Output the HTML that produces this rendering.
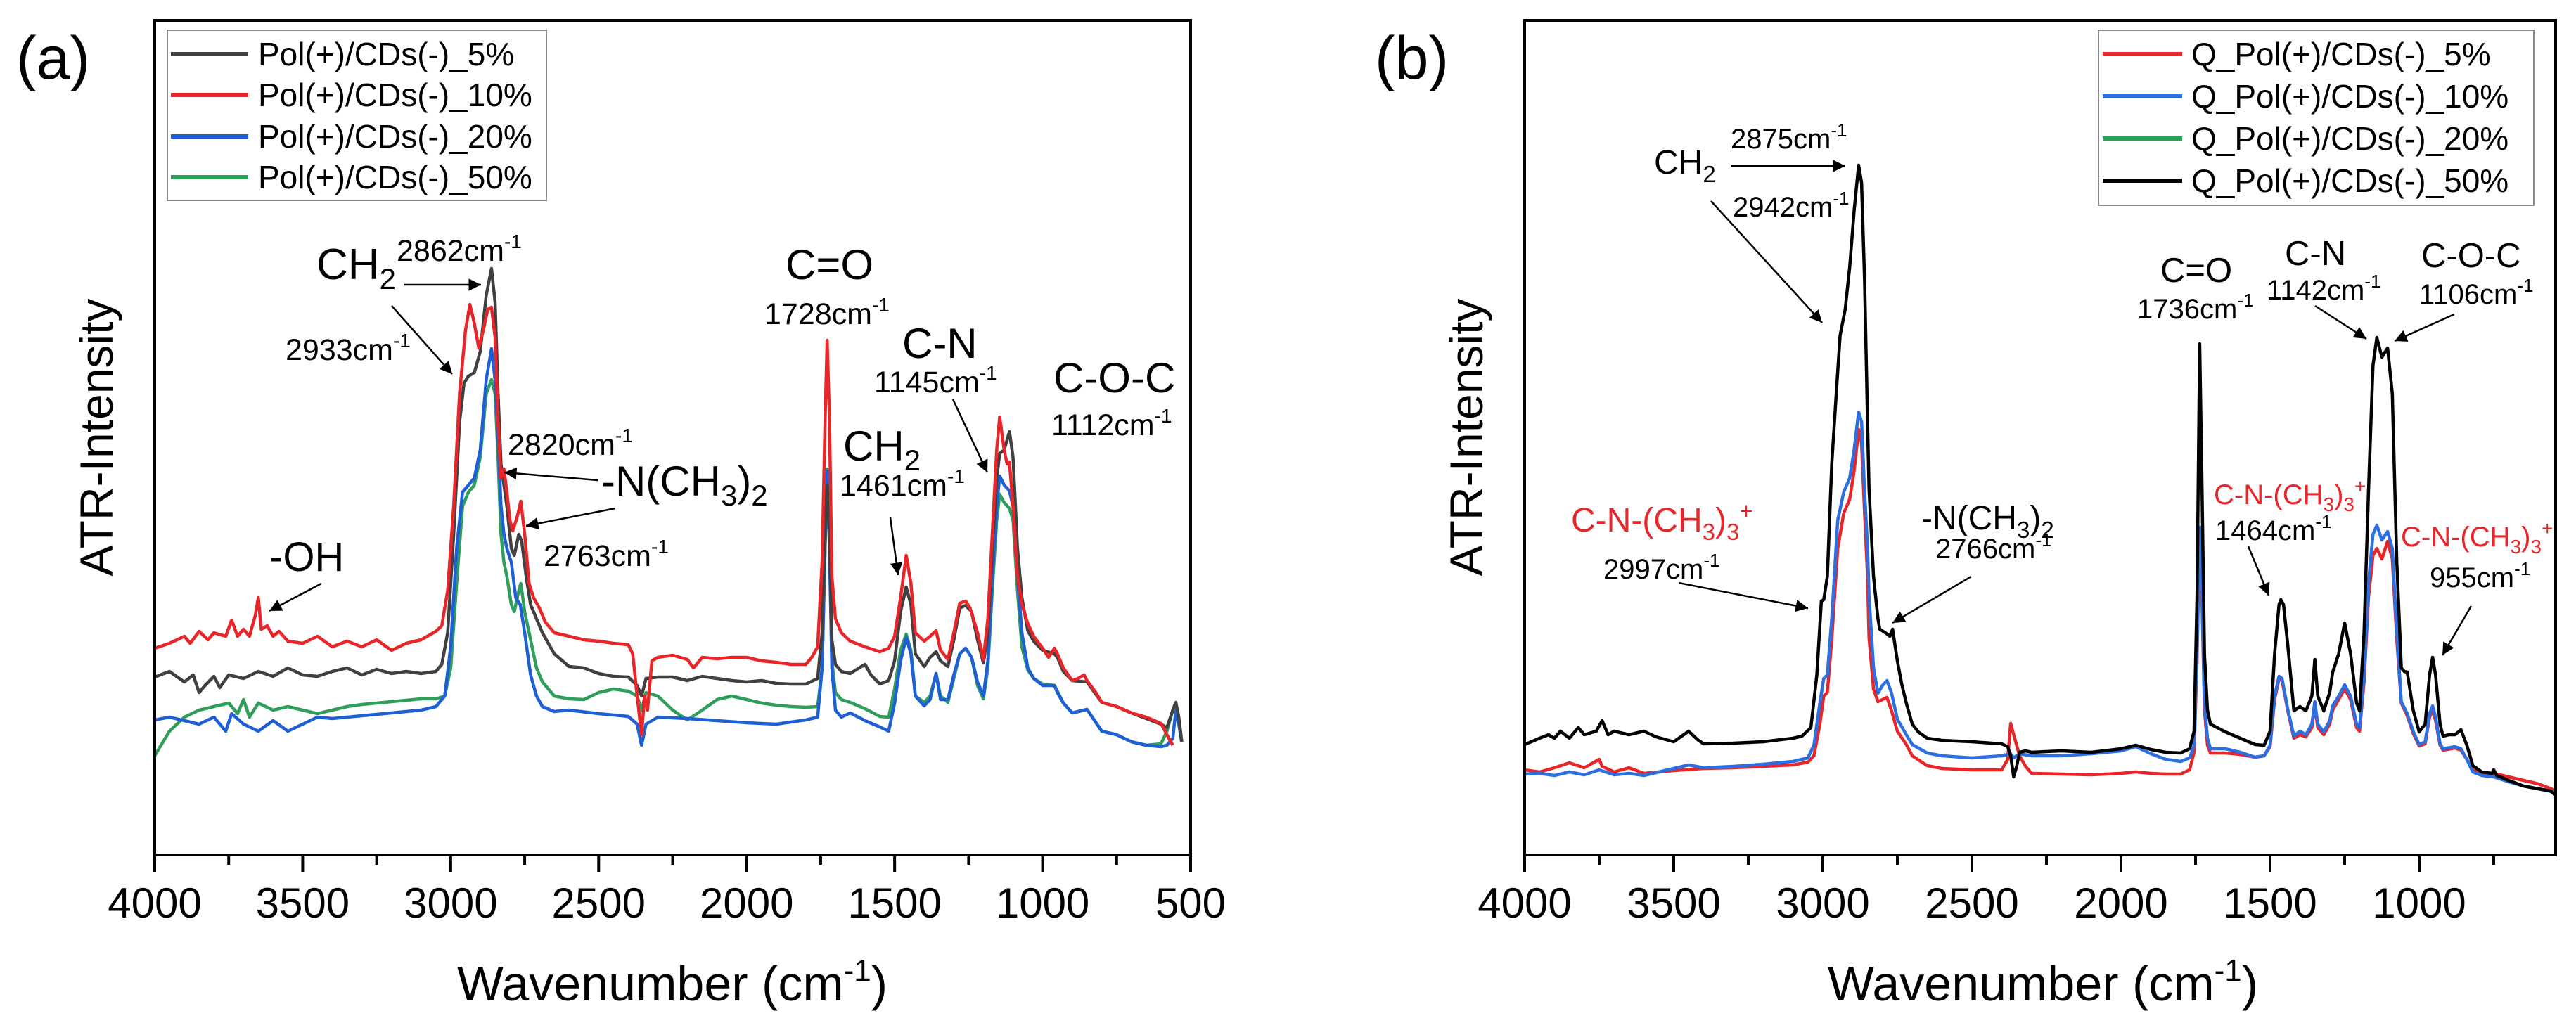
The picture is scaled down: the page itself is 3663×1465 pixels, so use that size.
<!DOCTYPE html>
<html><head><meta charset="utf-8"><style>
html,body{margin:0;padding:0;background:#fff}
svg{display:block;font-family:"Liberation Sans",Arial,sans-serif}
</style></head><body>
<svg id="fig" width="3663" height="1465" viewBox="0 0 3663 1465" xmlns="http://www.w3.org/2000/svg">
<defs>
<marker id="ah" viewBox="0 0 10 10" refX="10" refY="5" markerWidth="9" markerHeight="7" markerUnits="strokeWidth" orient="auto"><path d="M0,0 L10,5 L0,10 z" fill="#000"/></marker>
<clipPath id="clipL"><rect x="222" y="31" width="1469" height="1183"/></clipPath>
<clipPath id="clipR"><rect x="2170" y="31" width="1462" height="1183"/></clipPath>
</defs>
<text x="23" y="112" font-size="86">(a)</text>
<text x="1955" y="112" font-size="86">(b)</text>
<g id="seriesL" clip-path="url(#clipL)"></g>
<g id="seriesR" clip-path="url(#clipR)"></g>
<rect x="220" y="29" width="1473" height="1187" fill="none" stroke="#000" stroke-width="4"/>
<rect x="2168" y="29" width="1466" height="1187" fill="none" stroke="#000" stroke-width="4"/>
<g id="axesL"></g><g id="axesR"></g>
<text transform="translate(160,622) rotate(-90)" text-anchor="middle" font-size="66">ATR-Intensity</text>
<text transform="translate(2108,622) rotate(-90)" text-anchor="middle" font-size="66">ATR-Intensity</text>
<text x="956" y="1423" text-anchor="middle" font-size="70">Wavenumber (cm<tspan font-size="44" dy="-28">-1</tspan><tspan dy="28">)</tspan></text>
<text x="2905" y="1423" text-anchor="middle" font-size="70">Wavenumber (cm<tspan font-size="44" dy="-28">-1</tspan><tspan dy="28">)</tspan></text>

<g>
<rect x="238" y="43" width="539" height="242" fill="#fff" stroke="#888" stroke-width="2"/>
<g><line x1="243" x2="353" y1="77" y2="77" stroke="#404040" stroke-width="6"/><text x="367" y="93" font-size="46">Pol(+)/CDs(-)_5%</text></g>
<g><line x1="243" x2="353" y1="135" y2="135" stroke="#e8262a" stroke-width="6"/><text x="367" y="151" font-size="46">Pol(+)/CDs(-)_10%</text></g>
<g><line x1="243" x2="353" y1="194" y2="194" stroke="#1f5fd6" stroke-width="6"/><text x="367" y="210" font-size="46">Pol(+)/CDs(-)_20%</text></g>
<g><line x1="243" x2="353" y1="252" y2="252" stroke="#2e9e5a" stroke-width="6"/><text x="367" y="268" font-size="46">Pol(+)/CDs(-)_50%</text></g>
</g>
<g>
<rect x="2984" y="43" width="619" height="249" fill="#fff" stroke="#888" stroke-width="2"/>
<g><line x1="2990" x2="3103" y1="77" y2="77" stroke="#e8262a" stroke-width="6"/><text x="3116" y="93" font-size="46">Q_Pol(+)/CDs(-)_5%</text></g>
<g><line x1="2990" x2="3103" y1="137" y2="137" stroke="#2b6fe0" stroke-width="6"/><text x="3116" y="153" font-size="46">Q_Pol(+)/CDs(-)_10%</text></g>
<g><line x1="2990" x2="3103" y1="197" y2="197" stroke="#2e9e5a" stroke-width="6"/><text x="3116" y="213" font-size="46">Q_Pol(+)/CDs(-)_20%</text></g>
<g><line x1="2990" x2="3103" y1="257" y2="257" stroke="#000" stroke-width="6"/><text x="3116" y="273" font-size="46">Q_Pol(+)/CDs(-)_50%</text></g>
</g>

<g stroke-width="2.5">
<text x="450" y="397" font-size="62">CH<tspan font-size="42" dy="14">2</tspan></text>
<text x="564" y="371" font-size="43">2862cm<tspan font-size="28" dy="-18">-1</tspan></text>
<line x1="574" y1="405" x2="684" y2="405" stroke="#000" marker-end="url(#ah)"/>
<text x="406" y="512" font-size="43">2933cm<tspan font-size="28" dy="-18">-1</tspan></text>
<line x1="557" y1="435" x2="643" y2="532" stroke="#000" marker-end="url(#ah)"/>
<text x="722" y="647" font-size="43">2820cm<tspan font-size="28" dy="-18">-1</tspan></text>
<text x="855" y="705" font-size="60">-N(CH<tspan font-size="42" dy="14">3</tspan><tspan dy="-14">)</tspan><tspan font-size="42" dy="14">2</tspan></text>
<line x1="850" y1="683" x2="717" y2="672" stroke="#000" marker-end="url(#ah)"/>
<line x1="875" y1="723" x2="748" y2="748" stroke="#000" marker-end="url(#ah)"/>
<text x="773" y="805" font-size="43">2763cm<tspan font-size="28" dy="-18">-1</tspan></text>
<text x="383" y="812" font-size="58">-OH</text>
<line x1="457" y1="830" x2="383" y2="869" stroke="#000" marker-end="url(#ah)"/>
<text x="1117" y="397" font-size="60">C=O</text>
<text x="1087" y="461" font-size="43">1728cm<tspan font-size="28" dy="-18">-1</tspan></text>
<text x="1283" y="509" font-size="60">C-N</text>
<text x="1243" y="558" font-size="43">1145cm<tspan font-size="28" dy="-18">-1</tspan></text>
<line x1="1355" y1="568" x2="1404" y2="672" stroke="#000" marker-end="url(#ah)"/>
<text x="1498" y="558" font-size="60">C-O-C</text>
<text x="1495" y="619" font-size="43">1112cm<tspan font-size="28" dy="-18">-1</tspan></text>
<text x="1199" y="655" font-size="60">CH<tspan font-size="42" dy="14">2</tspan></text>
<text x="1194" y="705" font-size="43">1461cm<tspan font-size="28" dy="-18">-1</tspan></text>
<line x1="1266" y1="736" x2="1277" y2="818" stroke="#000" marker-end="url(#ah)"/>
</g>

<g stroke-width="2.5">
<text x="2461" y="211" font-size="40">2875cm<tspan font-size="26" dy="-17">-1</tspan></text>
<text x="2352" y="247" font-size="48">CH<tspan font-size="33" dy="12">2</tspan></text>
<line x1="2461" y1="236" x2="2624" y2="236" stroke="#000" marker-end="url(#ah)"/>
<text x="2464" y="308" font-size="40">2942cm<tspan font-size="26" dy="-17">-1</tspan></text>
<line x1="2433" y1="286" x2="2591" y2="459" stroke="#000" marker-end="url(#ah)"/>
<text x="2234" y="756" font-size="48" fill="#e8262a">C-N-(CH<tspan font-size="33" dy="12">3</tspan><tspan dy="-12">)</tspan><tspan font-size="33" dy="12">3</tspan><tspan font-size="33" dy="-30">+</tspan></text>
<text x="2280" y="823" font-size="40">2997cm<tspan font-size="26" dy="-17">-1</tspan></text>
<line x1="2387" y1="829" x2="2571" y2="865" stroke="#000" marker-end="url(#ah)"/>
<text x="2732" y="753" font-size="48">-N(CH<tspan font-size="33" dy="12">3</tspan><tspan dy="-12">)</tspan><tspan font-size="33" dy="12">2</tspan></text>
<text x="2752" y="794" font-size="40">2766cm<tspan font-size="26" dy="-17">-1</tspan></text>
<line x1="2803" y1="820" x2="2691" y2="886" stroke="#000" marker-end="url(#ah)"/>
<text x="3072" y="401" font-size="49">C=O</text>
<text x="3039" y="453" font-size="40">1736cm<tspan font-size="26" dy="-17">-1</tspan></text>
<text x="3249" y="377" font-size="49">C-N</text>
<text x="3223" y="426" font-size="40">1142cm<tspan font-size="26" dy="-17">-1</tspan></text>
<text x="3443" y="380" font-size="49">C-O-C</text>
<text x="3440" y="432" font-size="40">1106cm<tspan font-size="26" dy="-17">-1</tspan></text>
<line x1="3292" y1="435" x2="3365" y2="482" stroke="#000" marker-end="url(#ah)"/>
<line x1="3490" y1="447" x2="3405" y2="485" stroke="#000" marker-end="url(#ah)"/>
<text x="3148" y="717" font-size="40" fill="#e8262a">C-N-(CH<tspan font-size="28" dy="10">3</tspan><tspan dy="-10">)</tspan><tspan font-size="28" dy="10">3</tspan><tspan font-size="28" dy="-26">+</tspan></text>
<text x="3150" y="768" font-size="40">1464cm<tspan font-size="26" dy="-17">-1</tspan></text>
<line x1="3197" y1="777" x2="3226" y2="847" stroke="#000" marker-end="url(#ah)"/>
<text x="3414" y="777" font-size="40" fill="#e8262a">C-N-(CH<tspan font-size="28" dy="10">3</tspan><tspan dy="-10">)</tspan><tspan font-size="28" dy="10">3</tspan><tspan font-size="28" dy="-26">+</tspan></text>
<text x="3455" y="835" font-size="40">955cm<tspan font-size="26" dy="-17">-1</tspan></text>
<line x1="3514" y1="862" x2="3473" y2="932" stroke="#000" marker-end="url(#ah)"/>
</g>
</svg>
<script>
// ---- data (wavenumber, intensity a.u.) ----
const ticksA = [4000,3500,3000,2500,2000,1500,1000,500];
const ticksB = [4000,3500,3000,2500,2000,1500,1000];
const minorA = [3750,3250,2750,2250,1750,1250,750];
const minorB = [3750,3250,2750,2250,1750,1250,750];

const polRed10 = [[4000,294],[3950,301],[3900,311],[3880,301],[3850,318],[3820,306],[3800,316],[3760,311],[3740,334],[3720,311],[3700,321],[3680,311],[3660,341],[3650,366],[3640,321],[3620,326],[3600,311],[3580,318],[3550,304],[3500,301],[3450,311],[3400,296],[3350,304],[3300,296],[3250,306],[3200,291],[3150,301],[3100,306],[3050,318],[3030,326],[3010,376],[2990,496],[2970,656],[2950,746],[2935,783],[2920,756],[2905,721],[2890,746],[2875,776],[2862,779],[2850,736],[2840,616],[2830,536],[2820,549],[2810,516],[2800,476],[2790,461],[2775,481],[2763,503],[2750,456],[2735,386],[2720,366],[2700,351],[2680,331],[2650,316],[2600,311],[2550,306],[2500,304],[2450,301],[2400,299],[2385,286],[2370,226],[2355,171],[2345,226],[2335,206],[2320,276],[2300,281],[2250,284],[2200,278],[2180,266],[2150,281],[2100,279],[2050,281],[2000,281],[1950,276],[1900,274],[1850,271],[1800,271],[1780,281],[1760,296],[1745,416],[1735,616],[1728,732],[1720,616],[1712,396],[1700,336],[1680,316],[1650,304],[1600,296],[1550,289],[1520,294],[1500,311],[1480,366],[1461,426],[1445,386],[1430,316],[1400,304],[1380,311],[1360,319],[1345,291],[1320,278],[1300,316],[1280,358],[1260,361],[1245,351],[1220,316],[1200,278],[1185,336],[1170,456],[1155,576],[1145,623],[1130,576],[1120,556],[1112,559],[1100,496],[1085,396],[1070,356],[1050,329],[1030,311],[1000,294],[980,281],[960,294],[950,286],[930,266],[900,248],[880,251],[860,256],[850,248],[820,231],[800,217],[750,211],[700,202],[650,196],[600,187],[580,171],[560,156]];

const polBlack5 = [[4000,253],[3950,261],[3900,246],[3870,256],[3850,231],[3830,241],[3800,254],[3780,238],[3750,256],[3700,251],[3650,261],[3600,254],[3550,266],[3500,256],[3450,254],[3400,261],[3350,266],[3300,256],[3250,264],[3200,258],[3150,261],[3100,258],[3050,261],[3030,271],[3010,316],[2990,456],[2970,616],[2955,671],[2940,681],[2920,686],[2900,716],[2880,796],[2862,834],[2850,786],[2840,656],[2830,556],[2820,526],[2810,496],[2795,436],[2785,426],[2770,456],[2760,446],[2745,396],[2730,356],[2710,336],[2690,316],[2670,301],[2650,286],[2600,268],[2550,266],[2500,258],[2450,254],[2400,253],[2370,241],[2355,226],[2340,251],[2300,253],[2250,253],[2200,248],[2150,254],[2100,251],[2050,248],[2000,246],[1950,248],[1900,244],[1850,243],[1800,243],[1760,251],[1745,316],[1735,456],[1728,526],[1720,456],[1712,306],[1700,271],[1680,261],[1650,258],[1620,266],[1600,271],[1580,256],[1550,243],[1520,248],[1500,276],[1480,346],[1461,381],[1445,356],[1430,286],[1400,268],[1380,281],[1360,289],[1345,276],[1320,268],[1300,306],[1280,351],[1260,355],[1240,346],[1220,306],[1200,273],[1185,316],[1170,436],[1155,536],[1145,571],[1130,576],[1112,602],[1100,566],[1085,436],[1070,366],[1050,319],[1030,304],[1000,291],[960,286],[950,281],[930,261],[900,248],[850,246],[800,217],[750,211],[700,202],[650,194],[600,186],[580,181],[560,206],[550,217],[540,196],[530,161]];

const polBlue20 = [[4000,192],[3950,196],[3900,191],[3850,186],[3800,196],[3760,176],[3740,201],[3700,186],[3650,176],[3600,191],[3550,176],[3500,186],[3450,196],[3400,194],[3300,198],[3200,202],[3100,206],[3050,211],[3020,226],[3000,296],[2980,436],[2960,516],[2940,526],[2920,536],[2900,576],[2880,676],[2862,720],[2850,676],[2840,596],[2830,496],[2820,456],[2810,436],[2795,416],[2780,366],[2765,356],[2750,316],[2730,256],[2710,226],[2690,211],[2650,204],[2600,206],[2500,201],[2400,197],[2370,186],[2355,156],[2340,186],[2300,196],[2200,194],[2100,191],[2000,188],[1900,186],[1800,192],[1760,196],[1745,266],[1735,436],[1728,546],[1720,436],[1712,266],[1700,206],[1680,196],[1650,202],[1600,191],[1550,182],[1520,176],[1500,216],[1480,276],[1461,309],[1445,286],[1430,226],[1400,212],[1380,221],[1360,258],[1345,221],[1320,221],[1300,256],[1280,286],[1260,294],[1240,281],[1220,246],[1200,226],[1185,276],[1170,396],[1155,496],[1145,539],[1130,526],[1112,518],[1100,496],[1085,396],[1070,316],[1050,266],[1030,251],[1000,241],[960,241],[950,231],[930,216],[900,202],[850,207],[800,176],[750,171],[700,161],[650,156],[600,154],[580,156],[560,166],[550,206],[540,186],[530,161]];

const polGreen50 = [[4000,141],[3950,176],[3900,196],[3850,206],[3800,211],[3750,216],[3720,201],[3700,221],[3680,196],[3650,216],[3600,206],[3550,211],[3500,206],[3450,201],[3400,206],[3350,211],[3300,214],[3250,216],[3200,218],[3150,220],[3100,222],[3050,222],[3020,226],[3000,266],[2980,386],[2960,496],[2940,516],[2920,526],[2900,566],[2880,656],[2862,676],[2850,656],[2840,566],[2830,456],[2820,416],[2810,396],[2795,356],[2785,346],[2770,376],[2763,386],[2750,346],[2730,306],[2710,266],[2690,246],[2650,226],[2600,222],[2550,221],[2500,231],[2450,236],[2400,233],[2370,226],[2355,206],[2340,231],[2300,226],[2250,206],[2200,192],[2150,206],[2100,221],[2050,226],[2000,221],[1950,216],[1900,213],[1850,211],[1800,210],[1760,211],[1745,266],[1735,436],[1728,549],[1720,436],[1712,276],[1700,231],[1680,221],[1650,217],[1600,208],[1550,197],[1520,196],[1500,236],[1480,291],[1461,314],[1445,291],[1430,226],[1400,217],[1380,226],[1360,258],[1345,226],[1320,217],[1300,251],[1280,286],[1260,294],[1240,281],[1220,241],[1200,222],[1185,266],[1170,376],[1155,476],[1145,513],[1130,501],[1112,493],[1100,476],[1085,376],[1070,296],[1050,263],[1030,251],[1000,243],[960,241],[950,233],[930,216],[900,202],[850,207],[800,176],[750,171],[700,161],[650,156],[600,158],[580,176],[560,206],[550,202],[540,186],[530,161]];

const qBlack50 = [[4000,157],[3950,166],[3920,171],[3900,166],[3880,176],[3850,166],[3820,181],[3800,171],[3760,176],[3740,191],[3720,171],[3700,176],[3650,171],[3600,176],[3560,168],[3500,161],[3450,176],[3420,164],[3400,158],[3300,159],[3200,161],[3100,166],[3070,169],[3040,181],[3020,256],[3005,361],[2997,363],[2985,396],[2970,556],[2955,656],[2942,739],[2925,776],[2910,836],[2895,916],[2880,981],[2870,956],[2860,816],[2850,616],[2845,521],[2830,396],[2815,336],[2809,321],[2790,316],[2775,311],[2766,321],[2750,276],[2735,242],[2720,216],[2700,186],[2680,175],[2650,166],[2600,163],[2500,161],[2400,158],[2380,154],[2370,141],[2360,111],[2350,126],[2340,146],[2320,148],[2300,146],[2200,148],[2100,146],[2000,151],[1950,156],[1900,150],[1850,146],[1800,145],[1770,151],[1755,176],[1745,366],[1736,727],[1728,516],[1720,286],[1710,206],[1700,186],[1650,175],[1600,166],[1550,157],[1520,156],[1500,176],[1485,286],[1470,356],[1464,363],[1455,356],[1440,296],[1420,205],[1400,211],[1380,205],[1360,226],[1350,278],[1340,226],[1320,205],[1300,231],[1290,260],[1270,286],[1250,330],[1230,286],[1210,216],[1200,205],[1185,316],[1170,516],[1155,696],[1142,736],[1125,708],[1106,721],[1090,656],[1075,416],[1060,266],[1050,261],[1040,260],[1020,206],[1000,175],[980,186],[965,256],[955,281],[945,256],[930,186],[920,169],[900,171],[880,171],[860,178],[840,156],[820,127],[790,118],[755,116],[750,121],[740,113],[700,106],[650,98],[600,94],[560,91],[545,86]];

const qBlue10 = [[4000,115],[3950,116],[3900,113],[3850,118],[3800,114],[3750,121],[3700,114],[3650,116],[3600,113],[3550,118],[3450,128],[3400,124],[3300,126],[3200,129],[3100,133],[3050,138],[3030,156],[3010,216],[2997,251],[2985,256],[2970,336],[2950,476],[2930,516],[2910,536],[2895,576],[2880,630],[2870,616],[2860,516],[2850,436],[2845,369],[2830,266],[2815,230],[2800,241],[2785,248],[2770,231],[2750,193],[2720,171],[2700,157],[2650,145],[2600,141],[2500,138],[2400,141],[2370,144],[2360,138],[2340,144],[2300,141],[2200,141],[2100,144],[2000,148],[1950,154],[1900,144],[1850,136],[1800,133],[1770,138],[1755,156],[1745,286],[1736,466],[1728,366],[1720,216],[1710,166],[1700,151],[1650,151],[1600,146],[1550,139],[1520,141],[1500,156],[1485,226],[1470,254],[1460,251],[1440,206],[1420,169],[1400,176],[1380,171],[1360,186],[1350,218],[1340,186],[1320,175],[1300,191],[1290,212],[1270,226],[1250,242],[1230,226],[1210,186],[1200,181],[1185,256],[1170,386],[1155,456],[1142,469],[1125,448],[1106,460],[1090,436],[1075,316],[1060,218],[1040,201],[1020,176],[1000,157],[980,161],[965,201],[955,212],[945,196],[930,158],[920,151],[880,154],[860,151],[840,136],[820,118],[790,113],[750,111],[700,104],[650,98],[600,94],[545,89]];

const qRed5 = [[4000,121],[3950,118],[3900,124],[3850,131],[3800,124],[3750,136],[3740,126],[3700,118],[3650,124],[3600,116],[3550,118],[3500,120],[3400,123],[3300,124],[3200,126],[3100,128],[3050,132],[3030,141],[3010,186],[2997,226],[2985,231],[2970,306],[2950,436],[2930,486],[2910,506],[2895,546],[2880,605],[2870,586],[2860,486],[2850,396],[2845,309],[2830,236],[2815,218],[2800,221],[2785,224],[2770,206],[2750,176],[2720,157],[2700,141],[2650,127],[2600,123],[2500,121],[2400,121],[2380,136],[2370,187],[2360,171],[2350,156],[2340,141],[2320,126],[2300,116],[2200,115],[2100,114],[2000,116],[1950,118],[1900,116],[1850,115],[1800,115],[1770,121],[1755,146],[1745,276],[1736,464],[1728,356],[1720,206],[1710,156],[1700,145],[1650,145],[1600,143],[1550,139],[1520,141],[1500,154],[1485,221],[1470,251],[1460,248],[1440,204],[1420,166],[1400,171],[1380,168],[1360,181],[1350,213],[1340,181],[1320,171],[1300,186],[1290,206],[1270,221],[1250,236],[1230,221],[1210,181],[1200,176],[1185,246],[1170,366],[1155,426],[1142,436],[1125,421],[1106,446],[1090,421],[1075,306],[1060,216],[1040,198],[1020,173],[1000,155],[980,158],[965,196],[955,206],[945,191],[930,156],[920,149],[880,152],[860,149],[840,136],[820,121],[790,116],[750,116],[700,111],[650,106],[600,101],[545,92]];

// ---- axes ----
const NS = 'http://www.w3.org/2000/svg';
function xA(w){ return 220 + (4000 - w) * 1473 / 3500; }
function xB(w){ return 2168 + (4000 - w) * 0.424; }
function yS(v){ return 1216 - v; }

function mk(tag, attrs, parent){
  const e = document.createElementNS(NS, tag);
  for (const k in attrs) e.setAttribute(k, attrs[k]);
  parent.appendChild(e);
  return e;
}
function drawSeries(data, xf, color, parent, name){
  const d = data.map((p,i)=>(i?'L':'M')+xf(p[0]).toFixed(1)+','+yS(p[1]).toFixed(1)).join('');
  const p = mk('path', {d:d, fill:'none', stroke:color, 'stroke-width':4.5, 'stroke-linejoin':'round'}, parent);
  
  
}
const gL = document.getElementById('seriesL');
const gR = document.getElementById('seriesR');
drawSeries(polGreen50, xA, '#2e9e5a', gL, 'series-pol-50');
drawSeries(polBlue20, xA, '#1f5fd6', gL, 'series-pol-20');
drawSeries(polBlack5, xA, '#404040', gL, 'series-pol-5');
drawSeries(polRed10, xA, '#e8262a', gL, 'series-pol-10');
drawSeries(qRed5, xB, '#e8262a', gR, 'series-q-pol-5');
drawSeries(qBlue10, xB, '#2b6fe0', gR, 'series-q-pol-10');
drawSeries(qBlack50, xB, '#000000', gR, 'series-q-pol-50');

function drawAxis(ticks, minor, xf, parent, prefix){
  ticks.forEach(t=>{
    const x = xf(t);
    const l = mk('line', {x1:x, x2:x, y1:1216, y2:1240, stroke:'#000', 'stroke-width':4}, parent);
    
    
    const tx = mk('text', {x:x, y:1305, 'text-anchor':'middle', 'font-size':60}, parent);
    tx.textContent = String(t);
    
    
  });
  minor.forEach(t=>{
    const x = xf(t);
    const l = mk('line', {x1:x, x2:x, y1:1216, y2:1230, stroke:'#000', 'stroke-width':4}, parent);
    
    
  });
}
drawAxis(ticksA, minorA, xA, document.getElementById('axesL'), 'x-axis-a');
drawAxis(ticksB, minorB, xB, document.getElementById('axesR'), 'x-axis-b');
</script>
</body></html>
